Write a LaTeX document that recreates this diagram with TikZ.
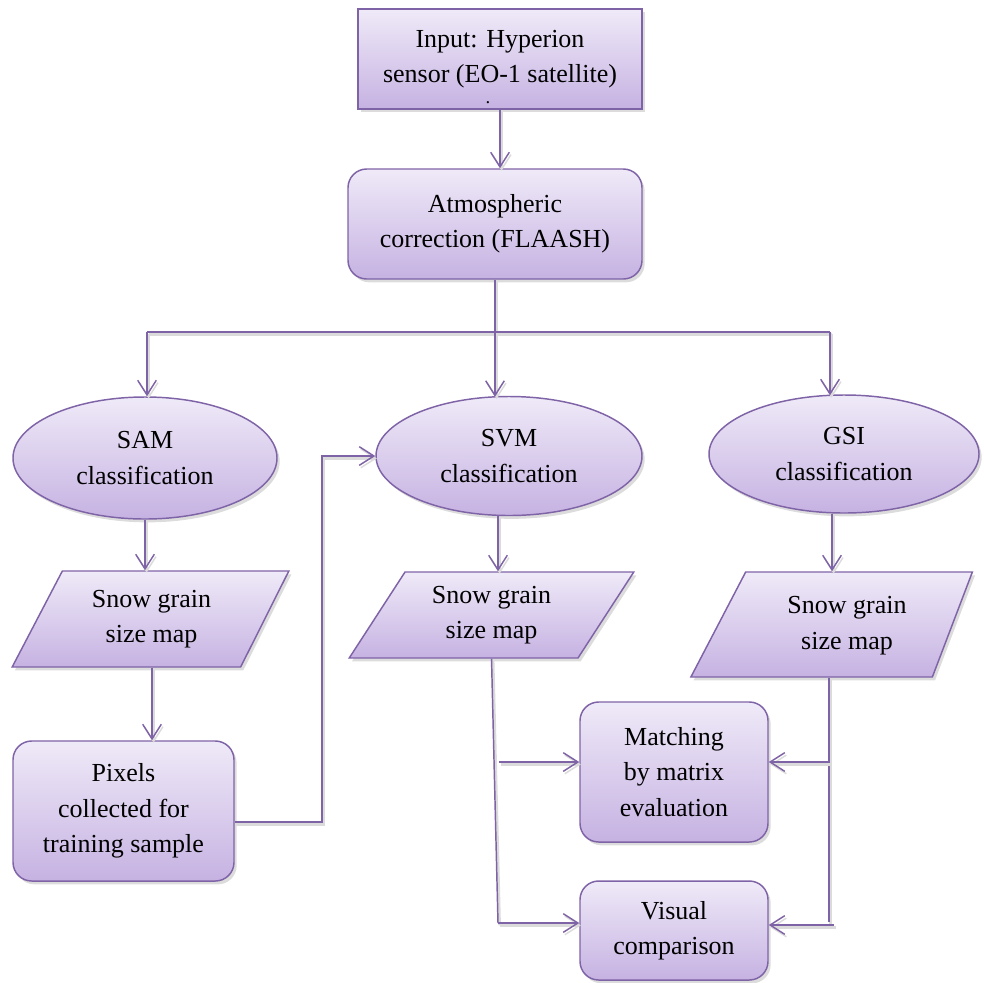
\documentclass[tikz,border=0pt]{standalone}
\usepackage{fontspec}
\setmainfont{Liberation Serif}
\usetikzlibrary{shapes.geometric,arrows.meta,shadows,calc}
\definecolor{edgepurple}{HTML}{7F63A7}
\definecolor{filltop}{HTML}{EFEAF8}
\definecolor{fillbot}{HTML}{C6B2E2}
\tikzset{
  box/.style={draw=edgepurple, line width=1.1pt, top color=filltop, bottom color=fillbot,
    drop shadow={shadow xshift=2pt, shadow yshift=-2.5pt, opacity=0.28},
    inner sep=0pt, align=center, font=\fontsize{19.5}{26.5}\selectfont},
  sqbox/.style={box, rectangle},
  rbox/.style={box, rectangle, rounded corners=14pt},
  oval/.style={box, ellipse},
  para/.style={box, trapezium, trapezium stretches=true},
  conn/.style={draw=edgepurple, line width=1.1pt,
    preaction={draw=black!14, line width=2pt, transform canvas={xshift=1.2pt,yshift=-1.8pt}}},
  arr/.style={conn, -{Straight Barb[length=11pt,width=14pt,line width=1.1pt]}}
}
\begin{document}
\begin{tikzpicture}[x=0.75pt,y=-0.75pt]
\useasboundingbox (0,0) rectangle (984,982);
% nodes
\node[sqbox, minimum width=284*0.75pt, minimum height=100*0.75pt] (input) at (500,59)
  {Input: Hyperion\\sensor (EO-1 satellite)};
\node[inner sep=0pt, anchor=base, font=\fontsize{14}{15}\selectfont] (dot) at (488,103) {.};
\node[rbox, minimum width=294*0.75pt, minimum height=110*0.75pt] (atmos) at (495,224)
  {Atmospheric\\correction (FLAASH)};
\node[oval, minimum width=264*0.75pt, minimum height=122*0.75pt] (sam) at (145,458)
  {SAM\\classification};
\node[oval, minimum width=266*0.75pt, minimum height=119*0.75pt] (svm) at (509,456)
  {SVM\\classification};
\node[oval, minimum width=270*0.75pt, minimum height=118*0.75pt] (gsi) at (844,454)
  {GSI\\classification};
\node[para, trapezium left angle=60, trapezium right angle=119,
  minimum width=277*0.75pt, minimum height=96*0.75pt] (sampara) at (151.5,619)
  {Snow grain\\size map};
\node[para, trapezium left angle=56.5, trapezium right angle=123.5,
  minimum width=285*0.75pt, minimum height=86*0.75pt] (svmpara) at (491.5,615)
  {Snow grain\\size map};
\node[para, trapezium left angle=60.7, trapezium right angle=112.3,
  minimum width=282*0.75pt, minimum height=105*0.75pt] (gsipara) at (839,624.5)
  {\hspace*{12pt}\raisebox{5pt}{\begin{tabular}{@{}c@{}}Snow grain\\size map\end{tabular}}};
\node[rbox, minimum width=221*0.75pt, minimum height=140*0.75pt] (pixels) at (123.5,811)
  {Pixels\\collected for\\training sample};
\node[rbox, minimum width=188*0.75pt, minimum height=140*0.75pt] (match) at (674,772)
  {Matching\\by matrix\\evaluation};
\node[rbox, minimum width=188*0.75pt, minimum height=99*0.75pt] (visual) at (674,930.5)
  {Visual\\comparison};
% coordinates
\coordinate (split) at (495,332);
\coordinate (samin) at (147,332);
\coordinate (gsiin) at (830,332);
\coordinate (svmdown) at (498,516);
\coordinate (samdown) at (152,667);
\coordinate (loopx) at (322,822);
\coordinate (svmend) at (498,923);
\coordinate (svmbr) at (499,762);
\coordinate (gsiend) at (829,922);
\coordinate (gsibr) at (829,762);
\coordinate (gsivis) at (834,925);
% connectors
\draw[arr] (input.south) -- (input.south |- atmos.north);
\draw[conn] (atmos.south) -- (split);
\draw[conn] (samin) -- (gsiin);
\draw[arr] (samin) -- (samin |- sam.north);
\draw[arr] (split) -- ($(split |- svm.north)+(0,1)$);
\draw[arr] (gsiin) -- ($(gsiin |- gsi.north)+(0,1)$);
\draw[arr] (sam.south) -- (sam.south |- sampara.north);
\draw[arr] (svmdown) -- (svmdown |- svmpara.north);
\draw[arr] ($(gsi.south)+(-12,0)$) -- ($(gsi.south |- gsipara.north)+(-12,0)$);
\draw[arr] (samdown |- sampara.south) -- (samdown |- pixels.north);
\draw[arr] (pixels.east |- loopx) -- (loopx) |- (svm.west);
\draw[conn] (svmpara.south) -- (svmend);
\draw[arr] (svmend) -- (svmend -| visual.west);
\draw[arr] (svmbr) -- (svmbr -| match.west);
\draw[conn] (gsiend |- gsipara.south) -- (gsiend);
\draw[arr] (gsibr) -- (gsibr -| match.east);
\draw[arr] (gsivis) -- (gsivis -| visual.east);
\end{tikzpicture}
\end{document}
